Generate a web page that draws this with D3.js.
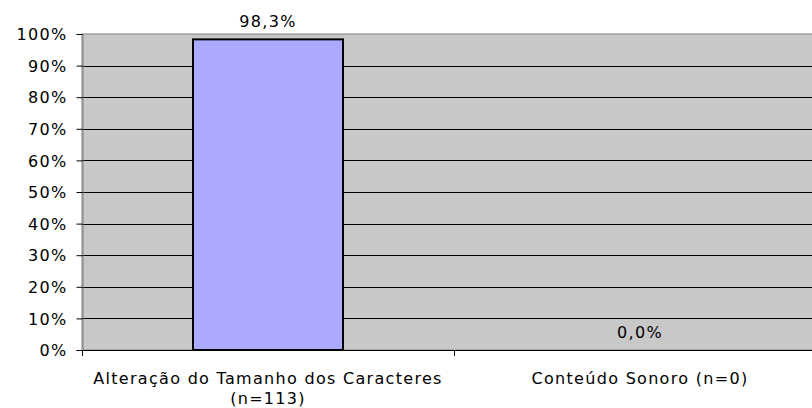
<!DOCTYPE html>
<html><head><meta charset="utf-8">
<script src="https://cdn.jsdelivr.net/npm/d3@7"></script>
<style>body{margin:0;background:#fff}svg{display:block}text{font-family:"DejaVu Sans",Verdana,sans-serif;fill:#000;letter-spacing:1.3px}</style>
</head><body>
<svg id="c" width="812" height="408"></svg>
<script>
const categories = [["Alteração do Tamanho dos Caracteres","(n=113)"],["Conteúdo Sonoro (n=0)"]];
const values = [98.3, 0.0];
const valueLabels = ["98,3%", "0,0%"];
const yTicks = [0,10,20,30,40,50,60,70,80,90,100];

const svg = d3.select("#c");
const L = 82, T = 34, B = 350, bandW = 372;
const x = d3.scaleBand().domain(d3.range(categories.length)).range([L, L + bandW*categories.length]).paddingInner(0).paddingOuter(0);
const y = d3.scaleLinear().domain([0,100]).range([B, T]);

svg.append("rect").attr("x", L).attr("y", T).attr("width", 812-L+2).attr("height", B-T).attr("fill", "#c8c8c8").attr("stroke","#808080");

svg.append("g").selectAll("line").data(yTicks.filter(d=>d>0 && d<100)).join("line")
  .attr("x1", L).attr("x2", 812).attr("y1", d=>Math.round(y(d))+0.5).attr("y2", d=>Math.round(y(d))+0.5)
  .attr("stroke", "#000").attr("stroke-width", 1);

const yAxis = svg.append("g").attr("transform", `translate(${L+0.5},0)`)
  .call(d3.axisLeft(y).tickValues(yTicks).tickFormat(d=>d+"%").tickSize(6).tickPadding(9));
yAxis.select(".domain").attr("stroke","#808080");
yAxis.selectAll(".tick line").attr("stroke","#000");
yAxis.selectAll("text").style("font-size","16px").attr("font-family",null).attr("dy","0.36em");

const bw = 150;
svg.append("g").selectAll("rect").data(values).join("rect")
  .attr("x", (d,i)=>x(i)+x.bandwidth()/2-bw/2).attr("width", bw)
  .attr("y", d=>y(d)).attr("height", d=>y(0)-y(d))
  .attr("fill", "#aaabff").attr("stroke","#000").attr("stroke-width",2);

svg.append("line").attr("x1",L).attr("x2",812).attr("y1",B+0.5).attr("y2",B+0.5).attr("stroke","#000");
svg.append("g").selectAll("line").data(d3.range(categories.length+1)).join("line")
  .attr("x1", i=>L+bandW*i+0.5).attr("x2", i=>L+bandW*i+0.5).attr("y1",B).attr("y2",B+6).attr("stroke","#000");

svg.append("g").selectAll("text").data(categories).join("text")
  .attr("x",(d,i)=>x(i)+x.bandwidth()/2).attr("y", 384).attr("text-anchor","middle").style("font-size","16px")
  .each(function(d){ const t=d3.select(this); d.forEach((s,k)=>t.append("tspan").attr("x", t.attr("x")).attr("dy", k?20:0).text(s)); });

svg.append("g").selectAll("text").data(values).join("text")
  .attr("x",(d,i)=>x(i)+x.bandwidth()/2).attr("y", d=>y(d)-12).attr("text-anchor","middle").style("font-size","16px")
  .text((d,i)=>valueLabels[i]);
</script>
</body></html>
